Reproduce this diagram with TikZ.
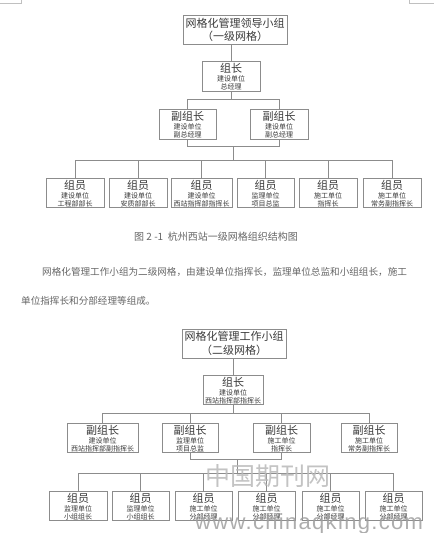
\documentclass[tikz,border=0pt]{standalone}
\usepackage{fontspec}
\newfontfamily\cjk{Noto Sans CJK SC}
\newfontfamily\urlfont[LetterSpace=6]{Liberation Sans}
\definecolor{ln}{HTML}{8C8C8C}
\definecolor{tx}{HTML}{3A3A3A}
\definecolor{capc}{HTML}{666666}
\definecolor{mark}{HTML}{C0C0C0}
\tikzset{
  box/.style={draw=ln, line width=0.7pt, fill=white, inner sep=0pt, outer sep=0pt},
  conn/.style={draw=ln, line width=0.7pt},
  ttl/.style={inner sep=0pt, font=\cjk\fontsize{11}{11}\selectfont, text=tx},
  sub/.style={inner sep=0pt, font=\cjk\fontsize{7}{7}\selectfont, text=tx},
  captext/.style={inner sep=0pt, font=\cjk\fontsize{10}{10}\selectfont, text=capc},
  paratext/.style={inner sep=0pt, anchor=west, font=\cjk\fontsize{9.6}{9.6}\selectfont, text=capc},
  wmark/.style={inner sep=0pt, text=gray!75, opacity=0.85},
  cornermark/.style={draw=mark, line width=0.6pt}
}
\newcommand\orgbox[8]{%
  \node[box, minimum width={(#4-#2)*1pt}, minimum height={(#5-#3)*1pt}] (#1) at ({(#2+#4)/2},{(#3+#5)/2}) {};
  \node[ttl] (#1-t) at ({(#2+#4)/2},{#3+7.5}) {#6};
  \node[sub] (#1-a) at ({(#2+#4)/2},{#3+17.5}) {#7};
  \node[sub] (#1-b) at ({(#2+#4)/2},{#3+26}) {#8};
}
\newcommand\headbox[5]{%
  \node[box, minimum width=104pt, minimum height=29pt] (#1) at (#2,#3) {};
  \node[ttl] (#1-t) at (#2,{#3-7}) {#4};
  \node[ttl] (#1-b) at (#2,{#3+6.5}) {#5};
}
\begin{document}
\begin{tikzpicture}[x=1pt,y=-1pt]
\useasboundingbox[fill=white] (0,0) rectangle (434,533);
% corner marks
\draw[cornermark] (0,3) -- (21,3) -- (21,0);
\draw[cornermark] (409,0) -- (409,3) -- (434,3);

% ---------------- chart 1 ----------------
\headbox{h1}{235}{30}{网格化管理领导小组}{（一级网格）}
\orgbox{z1}{202}{61}{260}{91}{组长}{建设单位}{总经理}
\orgbox{f1}{159}{109}{216}{139}{副组长}{建设单位}{副总经理}
\orgbox{f2}{250}{109}{308}{139}{副组长}{建设单位}{副总经理}
\orgbox{m1}{46}{178}{104}{207}{组员}{建设单位}{工程部部长}
\orgbox{m2}{109}{178}{167}{207}{组员}{建设单位}{安质部部长}
\orgbox{m3}{171}{178}{232}{207}{组员}{建设单位}{西站指挥部指挥长}
\orgbox{m4}{237}{178}{294}{207}{组员}{监理单位}{项目总监}
\orgbox{m5}{299}{178}{357}{207}{组员}{施工单位}{指挥长}
\orgbox{m6}{363}{178}{421}{207}{组员}{施工单位}{常务副指挥长}

\coordinate (j1) at (231,99);
\coordinate (j2) at (233,146);
\coordinate (j3) at (233,160);
\draw[conn] (z1.north) -- (z1.north |- h1.south);
\draw[conn] (z1.south) -- (j1);
\draw[conn] (f1.north) -- (f1.north |- j1) -- (f2.north |- j1) -- (f2.north);
\draw[conn] (f1.south) -- (f1.south |- j2) -- (f2.south |- j2) -- (f2.south);
\draw[conn] (j2) -- (j3);
\draw[conn] (m1.north) -- (m1.north |- j3) -- (m6.north |- j3) -- (m6.north);
\foreach \m in {m2,m3,m4,m5} \draw[conn] (\m.north) -- (\m.north |- j3);

% caption and paragraph
\node[captext] (cap) at (216,237) {图 2 -1\ \ 杭州西站一级网格组织结构图};
\node[paratext] (p1) at (42,272) {网格化管理工作小组为二级网格，由建设单位指挥长，监理单位总监和小组组长，施工};
\node[paratext] (p2) at (21,301) {单位指挥长和分部经理等组成。};

% ---------------- chart 2 ----------------
\headbox{h2}{234}{343.5}{网格化管理工作小组}{（二级网格）}
\orgbox{z2}{203}{375}{263}{404}{组长}{建设单位}{西站指挥部指挥长}
\orgbox{g1}{67}{423}{138}{452}{副组长}{建设单位}{西站指挥部副指挥长}
\orgbox{g2}{162}{423}{218}{452}{副组长}{监理单位}{项目总监}
\orgbox{g3}{253}{423}{310}{452}{副组长}{施工单位}{指挥长}
\orgbox{g4}{341}{423}{397}{452}{副组长}{施工单位}{常务副指挥长}
\orgbox{n1}{49}{491}{107}{520}{组员}{监理单位}{小组组长}
\orgbox{n2}{112}{491}{169}{520}{组员}{监理单位}{小组组长}
\orgbox{n3}{175}{491}{232}{520}{组员}{施工单位}{分部经理}
\orgbox{n4}{238}{491}{295}{520}{组员}{施工单位}{分部经理}
\orgbox{n5}{302}{491}{359}{520}{组员}{施工单位}{分部经理}
\orgbox{n6}{365}{491}{422}{520}{组员}{施工单位}{分部经理}

\coordinate (k1) at (233,413);
\coordinate (k2) at (237,459);
\coordinate (k3) at (237,473);
\draw[conn] (z2.north) -- (z2.north |- h2.south);
\draw[conn] (z2.south) -- (k1);
\draw[conn] (g1.north) -- (g1.north |- k1) -- (g4.north |- k1) -- (g4.north);
\foreach \g in {g2,g3} \draw[conn] (\g.north) -- (\g.north |- k1);
\draw[conn] (g2.south) -- (g2.south |- k2) -- (g3.south |- k2) -- (g3.south);
\draw[conn] (k2) -- (k3);
\draw[conn] (n1.north) -- (n1.north |- k3) -- (n6.north |- k3) -- (n6.north);
\foreach \n in {n2,n3,n4,n5} \draw[conn] (\n.north) -- (\n.north |- k3);

% watermark
\node[wmark, font=\cjk\fontsize{25}{25}\selectfont, text=gray!55] (wm1) at (268,476) {中国期刊网};
\node[wmark, anchor=base west, font=\urlfont\fontsize{22}{22}\selectfont] (wm2) at (195,529) {www.chinaqking.com};
\end{tikzpicture}
\end{document}
